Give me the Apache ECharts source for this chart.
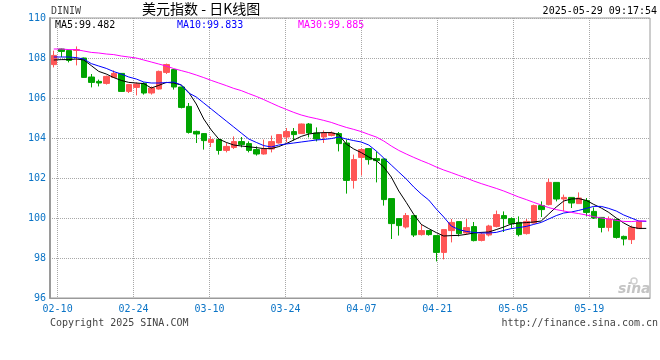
<!DOCTYPE html>
<html>
<head>
<meta charset="utf-8">
<script src="https://cdn.jsdelivr.net/npm/echarts@6/dist/echarts.min.js"></script>
<style>
html,body{margin:0;padding:0;background:#fff;}
#chart{width:660px;height:360px;}
</style>
</head>
<body>
<div id="chart"></div>
<script>
// trading days (categories)
const dates = ['02-07',
 '02-10','02-11','02-12','02-13','02-14','02-17','02-18','02-19','02-20','02-21',
 '02-24','02-25','02-26','02-27','02-28','03-03','03-04','03-05','03-06','03-07',
 '03-10','03-11','03-12','03-13','03-14','03-17','03-18','03-19','03-20','03-21',
 '03-24','03-25','03-26','03-27','03-28','03-31','04-01','04-02','04-03','04-04',
 '04-07','04-08','04-09','04-10','04-11','04-14','04-15','04-16','04-17','04-18',
 '04-21','04-22','04-23','04-24','04-25','04-28','04-29','04-30','05-01','05-02',
 '05-05','05-06','05-07','05-08','05-09','05-12','05-13','05-14','05-15','05-16',
 '05-19','05-20','05-21','05-22','05-23','05-26','05-27','05-28','05-29'];
const tickLabels = ['02-10','02-24','03-10','03-24','04-07','04-21','05-05','05-19'];

const open = [107.67,108.45,108.37,108.38,108.0,107.05,106.83,106.73,107.03,107.23,
 106.33,106.53,106.73,106.25,106.45,107.28,107.42,106.55,105.58,104.33,
 104.22,103.78,103.92,103.38,103.53,103.82,103.72,103.42,103.2,103.45,
 103.75,104.05,104.32,104.22,104.7,104.25,104.05,104.13,104.22,103.75,
 101.88,103.03,103.47,102.97,102.95,100.97,99.97,99.55,100.12,99.17,
 99.37,99.12,98.28,99.37,99.82,99.25,99.57,98.88,99.15,99.58,
 100.12,99.97,99.78,99.22,99.75,100.62,100.67,101.78,100.95,101.03,
 100.72,100.87,100.33,100.03,99.53,99.92,99.08,98.92,99.47];
const close = [108.13,108.33,107.88,108.42,107.03,106.78,106.75,107.08,107.23,106.33,
 106.67,106.7,106.25,106.5,107.33,107.67,106.55,105.53,104.28,104.2,
 103.87,103.92,103.38,103.58,103.82,103.67,103.38,103.2,103.45,103.82,
 104.17,104.32,104.17,104.7,104.25,103.95,104.25,104.25,103.72,101.88,
 102.92,103.42,102.92,102.87,100.92,99.72,99.62,100.12,99.15,99.37,
 99.17,98.28,99.42,99.78,99.22,99.52,98.87,99.19,99.6,100.17,
 99.97,99.72,99.17,99.83,100.62,100.42,101.78,100.95,101.03,100.75,
 101.0,100.28,100.0,99.53,99.95,99.03,98.95,99.53,99.83];
const low = [107.53,108.05,107.78,107.63,107.0,106.53,106.58,106.67,107.0,106.3,
 106.25,106.13,106.17,106.17,106.42,107.2,106.42,105.48,104.22,103.75,
 103.42,103.55,103.17,103.28,103.45,103.53,103.28,103.12,103.17,103.28,
 103.72,103.78,103.87,104.2,104.03,103.83,103.75,104.08,103.33,101.22,
 101.47,102.12,102.67,101.78,100.62,98.95,99.12,99.47,99.05,99.12,
 99.12,97.83,97.93,98.78,99.08,99.17,98.83,98.83,99.08,99.53,
 99.3,99.47,99.08,99.17,99.72,100.05,100.63,100.83,100.33,100.5,
 100.72,100.08,99.95,99.28,99.33,98.97,98.63,98.7,99.47];
const high = [108.37,108.47,108.42,108.58,108.02,107.2,106.92,107.12,107.38,107.25,
 106.7,106.78,106.78,106.58,107.37,107.72,107.45,106.57,105.75,104.37,
 104.25,104.08,103.95,103.75,104.08,104.05,103.83,103.58,103.92,104.12,
 104.2,104.5,104.5,104.72,104.75,104.53,104.38,104.33,104.3,103.92,
 103.17,103.5,103.5,103.33,102.97,100.97,99.97,100.25,100.12,99.67,
 99.4,99.12,99.42,99.95,99.82,99.95,99.8,99.28,99.66,100.37,
 100.33,100.03,100.08,99.95,100.67,100.83,101.97,101.78,101.17,101.03,
 101.28,101.0,100.53,100.03,100.08,99.95,99.12,99.62,99.87];

const ma5 = [107.9,107.92,107.92,107.95,107.9,107.62,107.33,107.2,107.02,106.88,
 106.78,106.75,106.72,106.5,106.63,106.78,106.75,106.65,106.28,105.7,
 104.95,104.4,103.95,103.78,103.65,103.6,103.56,103.52,103.47,103.47,
 103.57,103.72,103.9,104.08,104.2,104.25,104.27,104.27,104.17,103.7,
 103.45,103.27,103.05,102.87,102.55,102.05,101.35,100.78,100.18,99.68,
 99.47,99.27,99.1,99.12,99.13,99.18,99.25,99.28,99.3,99.42,
 99.55,99.7,99.75,99.77,99.8,99.85,100.2,100.55,100.85,100.95,
 100.97,100.88,100.68,100.5,100.28,100.0,99.75,99.55,99.48,99.48];
const ma10 = [108.05,108.05,108.05,108.02,107.95,107.72,107.6,107.48,107.32,107.2,
 107.05,106.95,106.8,106.75,106.75,106.77,106.8,106.65,106.25,106.05,
 105.75,105.45,105.15,104.85,104.55,104.25,103.95,103.78,103.62,103.55,
 103.65,103.7,103.75,103.8,103.85,103.9,103.93,103.97,104.05,103.95,
 103.87,103.8,103.65,103.35,103.0,102.65,102.3,101.95,101.55,101.2,
 100.9,100.45,100.05,99.6,99.42,99.33,99.28,99.25,99.25,99.28,
 99.38,99.47,99.52,99.58,99.68,99.78,99.95,100.12,100.25,100.3,
 100.38,100.48,100.58,100.58,100.48,100.35,100.15,100.0,99.85,99.83];
const ma30 = [108.45,108.45,108.42,108.42,108.35,108.28,108.25,108.2,108.17,108.1,
 108.05,108.0,107.9,107.8,107.7,107.6,107.47,107.37,107.27,107.15,
 107.02,106.88,106.75,106.62,106.48,106.37,106.22,106.08,105.92,105.75,
 105.58,105.43,105.28,105.15,105.05,104.97,104.88,104.78,104.65,104.53,
 104.43,104.32,104.18,104.05,103.85,103.6,103.38,103.2,103.03,102.87,
 102.72,102.55,102.4,102.27,102.13,102.0,101.85,101.72,101.6,101.48,
 101.35,101.2,101.05,100.92,100.78,100.65,100.52,100.42,100.35,100.28,
 100.22,100.15,100.07,100.0,99.95,99.88,99.83,99.82,99.85,99.85];

const maLabels = ['MA5:99.482', 'MA10:99.833', 'MA30:99.885'];
const maColors = ['#000000', '#0000ff', '#ff00ff'];
const yTicks = {min: 96, max: 110, interval: 2};

const kData = dates.map((d, i) => i < open.length ? [open[i], close[i], low[i], high[i]] : '-');

const mono = '"DejaVu Sans Mono", "Liberation Mono", monospace';
const blue = '#0b74c6';
const chart = echarts.init(document.getElementById('chart'), null, {renderer: 'canvas'});

chart.setOption({
  animation: false,
  backgroundColor: '#ffffff',
  grid: {left: 50, right: 10, top: 18, bottom: 62, show: true, borderColor: '#9a9a9a', borderWidth: 1},
  xAxis: [{
    type: 'category', data: dates, boundaryGap: true, position: 'bottom',
    axisLine: {show: false}, axisTick: {show: false}, axisLabel: {show: false}, splitLine: {show: false}
  }, {
    type: 'category', data: dates, boundaryGap: false, position: 'bottom',
    axisLine: {show: true, lineStyle: {color: '#9a9a9a', width: 1}},
    axisTick: {show: false},
    axisLabel: {
      interval: (i, v) => tickLabels.includes(v),
      color: blue, fontFamily: mono, fontSize: 10, margin: 6
    },
    splitLine: {show: true, interval: (i, v) => tickLabels.includes(v),
      lineStyle: {color: '#a8a8a8', type: 'dotted', width: 1}}
  }],
  yAxis: {
    type: 'value', min: yTicks.min, max: yTicks.max, interval: yTicks.interval,
    axisLine: {show: true, lineStyle: {color: '#9a9a9a', width: 2}},
    axisTick: {show: false},
    axisLabel: {color: blue, fontFamily: mono, fontSize: 10, margin: 4},
    splitLine: {show: true, lineStyle: {color: '#a8a8a8', type: 'dotted', width: 1}}
  },
  series: [{
    type: 'candlestick', data: kData, xAxisIndex: 0, barWidth: 6,
    itemStyle: {color: '#ff5656', color0: '#00a400', borderColor: '#ff5656', borderColor0: '#00a400', borderWidth: 1}
  }, {
    type: 'line', data: ma5, xAxisIndex: 0, symbol: 'none', lineStyle: {color: maColors[0], width: 1}
  }, {
    type: 'line', data: ma10, xAxisIndex: 0, symbol: 'none', lineStyle: {color: maColors[1], width: 1}
  }, {
    type: 'line', data: ma30, xAxisIndex: 0, symbol: 'none', lineStyle: {color: maColors[2], width: 1}
  }],
  graphic: [
    {type: 'text', left: 51, top: 6, style: {text: 'DINIW', font: '10px ' + mono, fill: '#444'}},
    {type: 'text', left: 142, top: 2, style: {text: '美元指数 - 日K线图', font: '14px "Noto Sans CJK SC"', fill: '#000'}},
    {type: 'text', right: 3, top: 6, style: {text: '2025-05-29 09:17:54', font: '10px ' + mono, fill: '#000'}},
    {type: 'text', left: 55, top: 20, style: {text: maLabels[0], font: '10px ' + mono, fill: maColors[0]}},
    {type: 'text', left: 177, top: 20, style: {text: maLabels[1], font: '10px ' + mono, fill: maColors[1]}},
    {type: 'text', left: 298, top: 20, style: {text: maLabels[2], font: '10px ' + mono, fill: maColors[2]}},
    {type: 'text', left: 618, top: 282, style: {text: 'sina', font: 'italic bold 14px "DejaVu Sans"', fill: '#c4c4c4'}},
    {type: 'circle', shape: {cx: 634, cy: 281, r: 3}, style: {fill: 'none', stroke: '#d0d0d0', lineWidth: 1.5}},
    {type: 'text', left: 50, top: 318, style: {text: 'Copyright 2025 SINA.COM', font: '10px ' + mono, fill: '#444'}},
    {type: 'text', right: 2, top: 318, style: {text: 'http://finance.sina.com.cn', font: '10px ' + mono, fill: '#444'}}
  ]
});
</script>
</body>
</html>
